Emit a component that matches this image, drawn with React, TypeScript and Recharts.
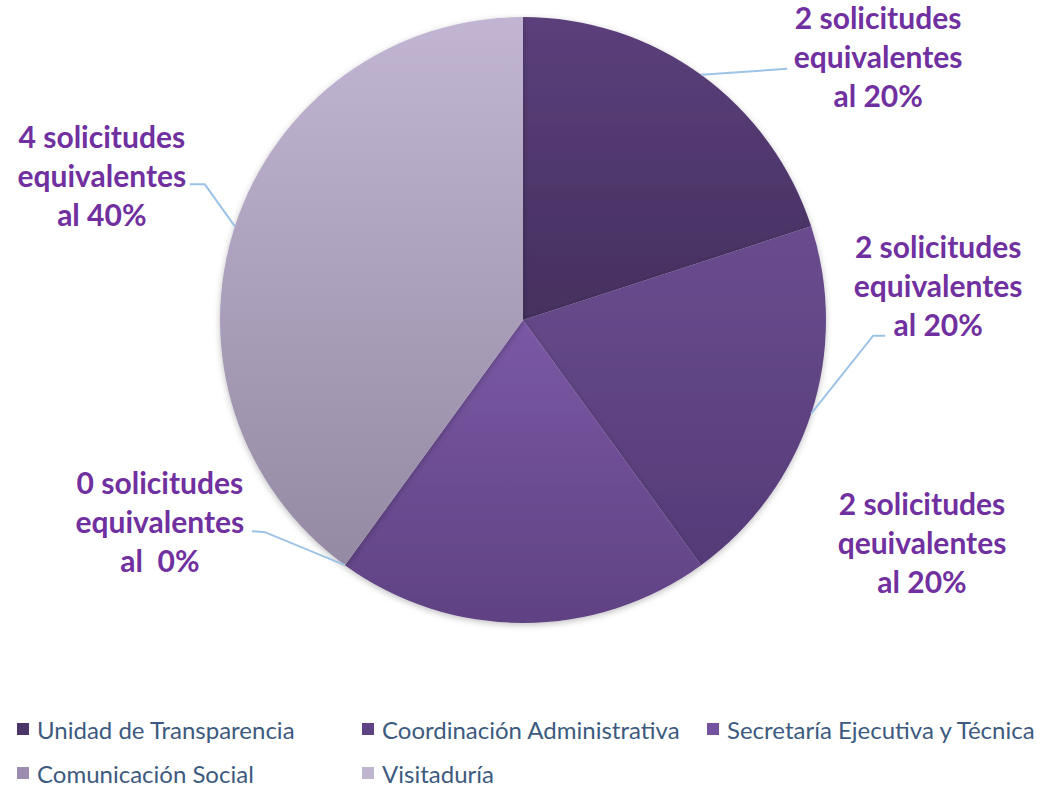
import React from 'react'
import { PieChart, Pie, Cell, Legend } from 'recharts'

const areas = [
  'Unidad de Transparencia',
  'Coordinación Administrativa',
  'Secretaría Ejecutiva y Técnica',
  'Comunicación Social',
  'Visitaduría',
]
const requests = [2, 2, 2, 0, 4]
const equivWords = ['equivalentes', 'equivalentes', 'qeuivalentes', 'equivalentes', 'equivalentes']
const pctLabels = ['al 20%', 'al 20%', 'al 20%', 'al\u00a0\u00a00%', 'al 40%']

const data = areas.map((name, i) => ({ name, value: requests[i] }))

// slice gradients (top -> bottom) and legend swatches
const gradTop = ['#5b3f7b', '#6a4c8e', '#7b58a5', '#a595b8', '#c1b5d3']
const gradBottom = ['#45305f', '#553b78', '#5f4283', '#8e82a0', '#958aa3']
const swatch = ['#4a3468', '#5e4283', '#7552a0', '#9c8db0', '#c0b5d1']

// label placement relative to the slice's edge point: [labelDx, labelDy, elbowDx, elbowDy, endDx, endDy]
const labelPos: number[][] = [
  [177, -17, 86, -6, 86, -6],
  [127, -127, 62, -78, 74, -78],
  [399, -80, 0, 0, 0, 0],
  [-185, -43, -80, -33, -93, -34],
  [-133, -50, -30, -42, -45, -42],
]
const showLine = [true, true, false, true, true]

const RAD = Math.PI / 180

const renderLabel = (props: any) => {
  const { cx, cy, midAngle, outerRadius, index } = props
  const ex = cx + outerRadius * Math.cos(-midAngle * RAD)
  const ey = cy + outerRadius * Math.sin(-midAngle * RAD)
  const [lx, ly, bx, by, tx, ty] = labelPos[index]
  const lines = [`${requests[index]} solicitudes`, equivWords[index], pctLabels[index]]
  return (
    <g key={`lbl-${index}`}>
      {showLine[index] && (
        <polyline
          points={`${ex},${ey} ${ex + bx},${ey + by} ${ex + tx},${ey + ty}`}
          fill="none"
          stroke="#9dc3e6"
          strokeWidth={2}
        />
      )}
      <text
        x={ex + lx}
        y={ey + ly}
        textAnchor="middle"
        fill="#7030a0"
        fontFamily="Lato, 'Open Sans', sans-serif"
        fontWeight="bold"
        fontSize={30}
      >
        {lines.map((t, k) => (
          <tspan key={k} x={ex + lx} y={ey + ly + (k - 1) * 39} dy="0.35em">
            {t}
          </tspan>
        ))}
      </text>
    </g>
  )
}

const renderLegend = () => (
  <div
    style={{
      display: 'grid',
      gridTemplateColumns: '345px 345px auto',
      rowGap: 16,
      fontFamily: 'Lato, "Open Sans", sans-serif',
      fontSize: 24,
      color: '#3d5a80',
    }}
  >
    {areas.map((name, i) => (
      <div key={name} style={{ display: 'flex', alignItems: 'center', whiteSpace: 'nowrap', height: 28 }}>
        <span style={{ width: 12, height: 12, background: swatch[i], marginRight: 8, display: 'inline-block' }} />
        {name}
      </div>
    ))}
  </div>
)

export default function App() {
  return (
    <div style={{ width: 1045, height: 787, background: '#fff' }}>
      <style>{'body{margin:0}'}</style>
      <PieChart width={1045} height={787} margin={{ top: 0, right: 0, bottom: 0, left: 0 }}>
        <defs>
          {areas.map((_, i) => (
            <linearGradient key={i} id={`grad${i}`} x1="0" y1="0" x2="0" y2="1">
              <stop offset="0%" stopColor={gradTop[i]} />
              <stop offset="100%" stopColor={gradBottom[i]} />
            </linearGradient>
          ))}
          <filter id="pieShadow" x="-10%" y="-10%" width="120%" height="120%">
            <feDropShadow dx="0" dy="2" stdDeviation="3" floodColor="#000" floodOpacity="0.25" />
          </filter>
        </defs>
        <Pie
          data={data}
          dataKey="value"
          nameKey="name"
          cx={523}
          cy={320}
          outerRadius={303}
          startAngle={90}
          endAngle={-270}
          stroke="none"
          label={renderLabel}
          labelLine={false}
          isAnimationActive={false}
          style={{ filter: 'url(#pieShadow)' }}
        >
          {data.map((d, i) => (
            <Cell key={d.name} fill={`url(#grad${i})`} />
          ))}
        </Pie>
        <Legend
          content={renderLegend}
          verticalAlign="bottom"
          wrapperStyle={{ top: 715, left: 17, width: 1028 }}
        />
      </PieChart>
    </div>
  )
}
